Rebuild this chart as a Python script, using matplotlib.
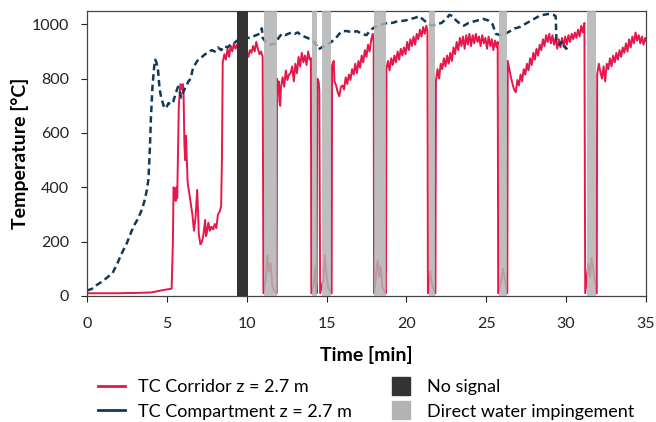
import matplotlib
matplotlib.use("Agg")
import matplotlib.pyplot as plt
from matplotlib.lines import Line2D

plt.rcParams['font.family'] = ['Lato', 'DejaVu Sans']

# corridor thermocouple (t [min], T [degC])
t_cor = [0.0, 0.5, 1.0, 1.5, 2.0, 2.5, 3.0, 3.5, 4.0, 4.3, 4.6, 5.0, 5.3,
         5.38, 5.42, 5.5, 5.55, 5.6, 5.65, 5.75, 5.85, 5.95, 6.0, 6.05, 6.1, 6.15, 6.2,
         6.3, 6.4, 6.5, 6.6, 6.7, 6.8, 6.9, 6.95, 7.0, 7.1, 7.2, 7.3, 7.4, 7.45, 7.5,
         7.6, 7.7, 7.8, 7.9, 8.0, 8.1, 8.2, 8.3, 8.4, 8.45, 8.5, 8.6, 8.7, 8.8, 8.9,
         9.0, 9.1, 9.2, 9.3, 9.4, 9.6, 9.8, 10.0, 10.1, 10.2, 10.3, 10.4, 10.5, 10.6,
         10.7, 10.8, 10.9, 11.0, 11.05, 11.2, 11.3, 11.4, 11.5, 11.6, 11.7, 11.88,
         11.9, 11.95, 12.0, 12.05, 12.1, 12.15, 12.25, 12.35, 12.45, 12.55, 12.65,
         12.75, 12.85, 12.95, 13.05, 13.15, 13.25, 13.35, 13.45, 13.55, 13.65, 13.75,
         13.85, 13.95, 14.02, 14.05, 14.2, 14.3, 14.38,
         14.42, 14.5, 14.55, 14.6, 14.8, 14.9, 15.0, 15.1, 15.32,
         15.35, 15.45, 15.5, 15.6, 15.7, 15.8, 15.9, 16.0, 16.1, 16.2, 16.3, 16.4,
         16.5, 16.6, 16.7, 16.8, 16.9, 17.0, 17.1, 17.2, 17.3, 17.4, 17.5, 17.6,
         17.7, 17.8, 17.9, 17.95, 17.98, 18.2, 18.3, 18.4, 18.5, 18.72,
         18.75, 18.85, 18.95, 19.05, 19.15, 19.25, 19.35, 19.45, 19.55, 19.65, 19.75,
         19.85, 19.95, 20.05, 20.15, 20.25, 20.35, 20.45, 20.55, 20.65, 20.75, 20.85,
         20.95, 21.05, 21.15, 21.25, 21.32, 21.35, 21.5, 21.6, 21.82,
         21.85, 21.95, 22.05, 22.15, 22.25, 22.35, 22.45, 22.55, 22.65, 22.75, 22.85,
         22.95, 23.05, 23.15, 23.25, 23.35, 23.45, 23.55, 23.65, 23.75, 23.85, 23.95,
         24.05, 24.15, 24.25, 24.35, 24.45, 24.55, 24.65, 24.75, 24.85, 24.95, 25.05,
         25.15, 25.25, 25.35, 25.45, 25.55, 25.65, 25.72, 25.75, 25.95, 26.05, 26.32,
         26.35, 26.45, 26.55, 26.65, 26.75, 26.85, 26.95, 27.05, 27.15, 27.25, 27.35,
         27.45, 27.55, 27.65, 27.75, 27.85, 27.95, 28.05, 28.15, 28.25, 28.35, 28.45,
         28.55, 28.65, 28.75, 28.85, 28.95, 29.05, 29.15, 29.25, 29.35, 29.45, 29.55,
         29.65, 29.75, 29.85, 29.95, 30.05, 30.15, 30.25, 30.35, 30.45, 30.55, 30.65,
         30.75, 30.85, 30.95, 31.05, 31.15, 31.2, 31.4, 31.5, 31.6, 31.92,
         31.95, 32.05, 32.15, 32.25, 32.35, 32.45, 32.55, 32.65, 32.75, 32.85, 32.95,
         33.05, 33.15, 33.25, 33.35, 33.45, 33.55, 33.65, 33.75, 33.85, 33.95, 34.05,
         34.15, 34.25, 34.35, 34.45, 34.55, 34.65, 34.75, 34.85, 34.95, 35.0]
T_cor = [10, 10, 10, 10, 10, 11, 11, 12, 13, 16, 20, 24, 27,
         200, 400, 380, 350, 400, 360, 700, 780, 760, 780, 740, 560, 500, 590,
         420, 380, 340, 300, 240, 290, 390, 320, 230, 190, 200, 230, 280, 220, 230,
         270, 240, 255, 245, 265, 250, 300, 310, 330, 500, 860, 890, 870, 910, 880,
         920, 900, 930, 910, 925, 920, 910, 900, 880, 905, 895, 920, 900, 935,
         910, 890, 900, 880, 10, 60, 150, 90, 120, 40, 20, 10,
         800, 745, 790, 715, 700, 770, 805, 770, 830, 795, 815,
         820, 845, 790, 855, 820, 880, 845, 895, 860, 885, 850,
         900, 870, 875, 10, 40, 110, 10,
         800, 790, 760, 10, 60, 150, 80, 30, 10,
         850, 865, 790, 775, 750, 735, 770, 775, 760, 805, 780, 815,
         795, 835, 815, 855, 820, 865, 840, 885, 860, 905, 880, 925,
         900, 945, 965, 935, 10, 130, 70, 110, 30, 10,
         835, 865, 830, 875, 850, 885, 860, 900, 870, 910, 885,
         915, 890, 935, 905, 945, 920, 955, 925, 965, 945, 980,
         955, 990, 965, 995, 975, 10, 90, 40, 10,
         790, 835, 800, 855, 835, 875, 845, 885, 855, 895, 865,
         915, 890, 935, 905, 950, 920, 955, 910, 960, 925, 965,
         920, 960, 930, 965, 935, 955, 920, 960, 930, 950, 910,
         955, 920, 945, 905, 940, 915, 935, 10, 60, 100, 10,
         865, 835, 805, 780, 760, 750, 795, 775, 815, 790, 835,
         815, 855, 830, 875, 850, 895, 870, 910, 885, 925, 905,
         945, 920, 960, 935, 965, 930, 960, 925, 950, 910, 945,
         915, 950, 920, 955, 925, 960, 935, 965, 945, 970, 950,
         980, 955, 995, 970, 1005, 10, 120, 70, 140, 10,
         815, 855, 825, 800, 845, 790, 855, 835, 875, 845, 885,
         860, 895, 870, 905, 880, 915, 895, 930, 900, 945, 915,
         955, 930, 970, 940, 960, 930, 955, 925, 950, 940]

# compartment thermocouple
t_cmp = [0.0, 0.3, 0.6, 1.0, 1.3, 1.6, 1.9, 2.2, 2.5, 2.8, 3.0, 3.2, 3.45, 3.6,
         3.75, 3.85, 3.95, 4.0, 4.1, 4.2, 4.27, 4.35, 4.45, 4.55, 4.65, 4.8, 4.95,
         5.1, 5.25, 5.4, 5.55, 5.7, 5.8, 5.9, 6.0, 6.1, 6.2, 6.35, 6.5, 6.6, 6.7,
         6.8, 6.9, 7.0, 7.2, 7.4, 7.6, 7.8, 8.0, 8.2, 8.4, 8.6, 8.8, 9.0, 9.2, 9.4,
         9.6, 9.8, 10.0, 10.2, 10.4, 10.6, 10.8, 10.95, 11.0, 11.2, 11.5, 11.8, 12.0,
         12.2, 12.4, 12.6, 12.8, 13.0, 13.2, 13.4, 13.6, 13.8, 14.0, 14.3, 14.5,
         14.7, 15.0, 15.3, 15.6, 15.8, 16.0, 16.3, 16.6, 16.9, 17.2, 17.5, 17.7,
         17.9, 18.2, 18.5, 18.8, 19.1, 19.4, 19.7, 20.0, 20.3, 20.6, 20.8, 21.0,
         21.3, 21.6, 21.9, 22.2, 22.5, 22.7, 22.9, 23.1, 23.3, 23.6, 23.9, 24.2,
         24.5, 24.8, 25.1, 25.4, 25.6, 25.9, 26.2, 26.5, 26.8, 27.1, 27.4, 27.7,
         28.0, 28.3, 28.6, 28.9, 29.2, 29.35, 29.4, 29.5, 29.6, 29.7, 29.8, 29.9,
         30.0, 30.1]
T_cmp = [20, 26, 40, 55, 70, 84, 120, 160, 195, 240, 265, 285, 320, 350,
         390, 430, 560, 650, 770, 840, 870, 860, 830, 760, 730, 700, 690,
         710, 705, 715, 745, 770, 755, 730, 745, 760, 770, 790, 800, 830, 845,
         855, 865, 870, 880, 890, 895, 905, 900, 915, 905, 920, 915, 925, 930, 940,
         945, 945, 950, 950, 955, 960, 965, 985, 950, 935, 925, 930, 950,
         965, 960, 965, 970, 965, 970, 960, 955, 950, 945, 930, 908,
         915, 925, 935, 950, 965, 975, 975, 970, 975, 965, 960, 975,
         985, 995, 1000, 1005, 1005, 1010, 1012, 1015, 1020, 1025, 1030, 1020,
         1005, 995, 1000, 1005, 1020, 1035, 1030, 1015, 1005, 995, 1005, 1010,
         1015, 1020, 1015, 1000, 965, 960, 965, 975, 985, 990, 1000, 1010,
         1020, 1030, 1035, 1038, 1035, 1030, 940, 930, 925, 935, 915, 920,
         910, 915]

# periods (start, end) in minutes
no_signal = [(9.4, 10.1)]
water = [(11.1, 11.9), (14.08, 14.4), (14.7, 15.3), (18.0, 18.7),
         (21.4, 21.8), (25.8, 26.3), (31.3, 31.9)]

red = '#e5174b'
navy = '#0f3a5a'
dark = '#333333'
light = '#b3b3b3'

fig = plt.figure(figsize=(6.56, 4.22), dpi=100)
ax = fig.add_axes([0.1326, 0.2986, 0.852, 0.676])

ax.plot(t_cor, T_cor, color=red, lw=1.4, zorder=2)
ax.plot(t_cmp, T_cmp, color=navy, lw=1.8, linestyle=(0, (2.6, 1.6)), zorder=2)

for a, b in no_signal:
    ax.axvspan(a, b, color=dark, lw=0, zorder=4)
for a, b in water:
    ax.axvspan(a, b, color=light, alpha=0.85, lw=0, zorder=3)

ax.set_xlim(0, 35)
ax.set_ylim(0, 1050)
ax.set_xticks(range(0, 36, 5))
ax.set_yticks(range(0, 1001, 200))
ax.tick_params(labelsize=11.5, length=4.3, width=0.8, direction='out',
               colors='#222222')
ax.tick_params(axis='x', pad=10.5)
ax.tick_params(axis='y', pad=8.5)
for s in ax.spines.values():
    s.set_color('#444444')
    s.set_linewidth(0.9)

ax.set_xlabel('Time [min]', fontsize=14, fontweight='bold', labelpad=11)
ax.set_ylabel('Temperature [°C]', fontsize=14, fontweight='bold', labelpad=2)

lines = [Line2D([], [], color=red, lw=2),
         Line2D([], [], color=navy, lw=2)]
boxes = [Line2D([], [], marker='s', ls='none', markersize=12.5, color=dark),
         Line2D([], [], marker='s', ls='none', markersize=12.5, color=light)]
opts = dict(loc='upper left', bbox_transform=fig.transFigure, frameon=False,
            fontsize=13, handlelength=1.5, handletextpad=0.7, labelspacing=0.48,
            borderaxespad=0, borderpad=0)
fig.legend(lines, ['TC Corridor z = 2.7 m', 'TC Compartment z = 2.7 m'],
           bbox_to_anchor=(98 / 656, 0.102), **opts)
fig.legend(boxes, ['No signal', 'Direct water impingement'],
           bbox_to_anchor=(387 / 656, 0.102), **opts)

fig.savefig('out.png', dpi=100)
